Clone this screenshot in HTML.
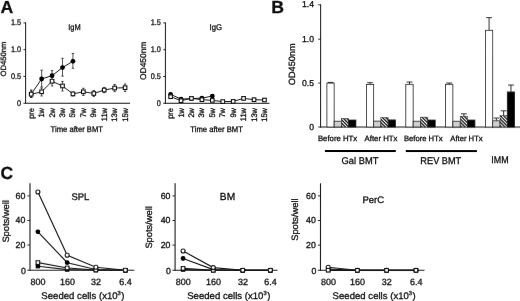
<!DOCTYPE html>
<html lang="en"><head><meta charset="utf-8"><title>Figure</title>
<style>
html,body{margin:0;padding:0;background:#fff;}
body{width:520px;height:301px;overflow:hidden;}
svg{display:block;font-family:"Liberation Sans",Arial,Helvetica,sans-serif;text-rendering:geometricPrecision;}
</style></head><body>
<svg width="520" height="301" viewBox="0 0 520 301">
<defs><filter id="bl" x="0" y="0" width="520" height="301" filterUnits="userSpaceOnUse"><feGaussianBlur stdDeviation="0.45"/></filter></defs>
<rect width="520" height="301" fill="#fff"/>
<g filter="url(#bl)" transform="rotate(0.02 260 150)">
<text x="0.6" y="12.9" font-size="17.4" text-anchor="start" font-weight="bold" textLength="12.7" lengthAdjust="spacingAndGlyphs" fill="#111" stroke="#111" stroke-width="0.3">A</text>
<text x="271.2" y="13.2" font-size="17.6" text-anchor="start" font-weight="bold" fill="#111" stroke="#111" stroke-width="0.3">B</text>
<text x="0.5" y="179" font-size="17.5" text-anchor="start" font-weight="bold" fill="#111" stroke="#111" stroke-width="0.3">C</text>
<line x1="25.6" y1="22.5" x2="25.6" y2="103.8" stroke="#1a1a1a" stroke-width="1"/>
<line x1="25.1" y1="103.3" x2="130" y2="103.3" stroke="#1a1a1a" stroke-width="1"/>
<line x1="23.400000000000002" y1="22.89999999999999" x2="25.6" y2="22.89999999999999" stroke="#1a1a1a" stroke-width="0.9"/>
<text x="21.1" y="25.39999999999999" font-size="8.1" text-anchor="end" textLength="10.13" lengthAdjust="spacingAndGlyphs" fill="#111" stroke="#111" stroke-width="0.3">1.5</text>
<line x1="23.400000000000002" y1="49.699999999999996" x2="25.6" y2="49.699999999999996" stroke="#1a1a1a" stroke-width="0.9"/>
<text x="21.1" y="52.199999999999996" font-size="8.1" text-anchor="end" textLength="10.13" lengthAdjust="spacingAndGlyphs" fill="#111" stroke="#111" stroke-width="0.3">1.0</text>
<line x1="23.400000000000002" y1="76.5" x2="25.6" y2="76.5" stroke="#1a1a1a" stroke-width="0.9"/>
<text x="21.1" y="79.0" font-size="8.1" text-anchor="end" textLength="10.13" lengthAdjust="spacingAndGlyphs" fill="#111" stroke="#111" stroke-width="0.3">0.5</text>
<line x1="23.400000000000002" y1="103.3" x2="25.6" y2="103.3" stroke="#1a1a1a" stroke-width="0.9"/>
<text x="21.1" y="105.8" font-size="8.1" text-anchor="end" textLength="4.05" lengthAdjust="spacingAndGlyphs" fill="#111" stroke="#111" stroke-width="0.3">0</text>
<text x="5.6" y="59.0" font-size="7.7" text-anchor="middle" transform="rotate(-90 5.6 59.0)" textLength="35.0" lengthAdjust="spacingAndGlyphs" fill="#111" stroke="#111" stroke-width="0.3">OD450nm</text>
<text x="74.4" y="30.4" font-size="8.3" text-anchor="middle" textLength="12.4" lengthAdjust="spacingAndGlyphs" fill="#111" stroke="#111" stroke-width="0.3">IgM</text>
<text x="33.7" y="108.0" font-size="8.1" text-anchor="end" transform="rotate(-90 33.7 108.0)" textLength="10.77" lengthAdjust="spacingAndGlyphs" fill="#111" stroke="#111" stroke-width="0.3">pre</text>
<text x="44.13" y="108.0" font-size="8.1" text-anchor="end" transform="rotate(-90 44.13 108.0)" textLength="9.53" lengthAdjust="spacingAndGlyphs" fill="#111" stroke="#111" stroke-width="0.3">1w</text>
<text x="54.56" y="108.0" font-size="8.1" text-anchor="end" transform="rotate(-90 54.56 108.0)" textLength="9.53" lengthAdjust="spacingAndGlyphs" fill="#111" stroke="#111" stroke-width="0.3">2w</text>
<text x="64.99000000000001" y="108.0" font-size="8.1" text-anchor="end" transform="rotate(-90 64.99000000000001 108.0)" textLength="9.53" lengthAdjust="spacingAndGlyphs" fill="#111" stroke="#111" stroke-width="0.3">3w</text>
<text x="75.42" y="108.0" font-size="8.1" text-anchor="end" transform="rotate(-90 75.42 108.0)" textLength="9.53" lengthAdjust="spacingAndGlyphs" fill="#111" stroke="#111" stroke-width="0.3">5w</text>
<text x="85.85" y="108.0" font-size="8.1" text-anchor="end" transform="rotate(-90 85.85 108.0)" textLength="9.53" lengthAdjust="spacingAndGlyphs" fill="#111" stroke="#111" stroke-width="0.3">7w</text>
<text x="96.28" y="108.0" font-size="8.1" text-anchor="end" transform="rotate(-90 96.28 108.0)" textLength="9.53" lengthAdjust="spacingAndGlyphs" fill="#111" stroke="#111" stroke-width="0.3">9w</text>
<text x="106.71" y="108.0" font-size="8.1" text-anchor="end" transform="rotate(-90 106.71 108.0)" textLength="13.12" lengthAdjust="spacingAndGlyphs" fill="#111" stroke="#111" stroke-width="0.3">11w</text>
<text x="117.14" y="108.0" font-size="8.1" text-anchor="end" transform="rotate(-90 117.14 108.0)" textLength="13.67" lengthAdjust="spacingAndGlyphs" fill="#111" stroke="#111" stroke-width="0.3">13w</text>
<text x="127.57000000000001" y="108.0" font-size="8.1" text-anchor="end" transform="rotate(-90 127.57000000000001 108.0)" textLength="13.67" lengthAdjust="spacingAndGlyphs" fill="#111" stroke="#111" stroke-width="0.3">15w</text>
<text x="76.80000000000001" y="132.1" font-size="8.1" text-anchor="middle" textLength="52.5" lengthAdjust="spacingAndGlyphs" fill="#111" stroke="#111" stroke-width="0.3">Time after BMT</text>
<line x1="31.200000000000003" y1="91" x2="31.200000000000003" y2="97.5" stroke="#1a1a1a" stroke-width="0.75"/>
<line x1="30.000000000000004" y1="91" x2="32.400000000000006" y2="91" stroke="#1a1a1a" stroke-width="0.75"/>
<line x1="30.000000000000004" y1="97.5" x2="32.400000000000006" y2="97.5" stroke="#1a1a1a" stroke-width="0.75"/>
<line x1="41.63" y1="88" x2="41.63" y2="96" stroke="#1a1a1a" stroke-width="0.75"/>
<line x1="40.43" y1="88" x2="42.830000000000005" y2="88" stroke="#1a1a1a" stroke-width="0.75"/>
<line x1="40.43" y1="96" x2="42.830000000000005" y2="96" stroke="#1a1a1a" stroke-width="0.75"/>
<line x1="52.06" y1="77" x2="52.06" y2="86" stroke="#1a1a1a" stroke-width="0.75"/>
<line x1="50.86" y1="77" x2="53.260000000000005" y2="77" stroke="#1a1a1a" stroke-width="0.75"/>
<line x1="50.86" y1="86" x2="53.260000000000005" y2="86" stroke="#1a1a1a" stroke-width="0.75"/>
<line x1="62.49" y1="81.5" x2="62.49" y2="91" stroke="#1a1a1a" stroke-width="0.75"/>
<line x1="61.29" y1="81.5" x2="63.690000000000005" y2="81.5" stroke="#1a1a1a" stroke-width="0.75"/>
<line x1="61.29" y1="91" x2="63.690000000000005" y2="91" stroke="#1a1a1a" stroke-width="0.75"/>
<line x1="72.92" y1="92" x2="72.92" y2="96" stroke="#1a1a1a" stroke-width="0.75"/>
<line x1="71.72" y1="92" x2="74.12" y2="92" stroke="#1a1a1a" stroke-width="0.75"/>
<line x1="71.72" y1="96" x2="74.12" y2="96" stroke="#1a1a1a" stroke-width="0.75"/>
<line x1="83.35" y1="88.3" x2="83.35" y2="95.5" stroke="#1a1a1a" stroke-width="0.75"/>
<line x1="82.14999999999999" y1="88.3" x2="84.55" y2="88.3" stroke="#1a1a1a" stroke-width="0.75"/>
<line x1="82.14999999999999" y1="95.5" x2="84.55" y2="95.5" stroke="#1a1a1a" stroke-width="0.75"/>
<line x1="93.78" y1="90.5" x2="93.78" y2="96.5" stroke="#1a1a1a" stroke-width="0.75"/>
<line x1="92.58" y1="90.5" x2="94.98" y2="90.5" stroke="#1a1a1a" stroke-width="0.75"/>
<line x1="92.58" y1="96.5" x2="94.98" y2="96.5" stroke="#1a1a1a" stroke-width="0.75"/>
<line x1="104.21" y1="87.5" x2="104.21" y2="92.7" stroke="#1a1a1a" stroke-width="0.75"/>
<line x1="103.00999999999999" y1="87.5" x2="105.41" y2="87.5" stroke="#1a1a1a" stroke-width="0.75"/>
<line x1="103.00999999999999" y1="92.7" x2="105.41" y2="92.7" stroke="#1a1a1a" stroke-width="0.75"/>
<line x1="114.64" y1="84.5" x2="114.64" y2="91.7" stroke="#1a1a1a" stroke-width="0.75"/>
<line x1="113.44" y1="84.5" x2="115.84" y2="84.5" stroke="#1a1a1a" stroke-width="0.75"/>
<line x1="113.44" y1="91.7" x2="115.84" y2="91.7" stroke="#1a1a1a" stroke-width="0.75"/>
<line x1="125.07000000000001" y1="84" x2="125.07000000000001" y2="91.5" stroke="#1a1a1a" stroke-width="0.75"/>
<line x1="123.87" y1="84" x2="126.27000000000001" y2="84" stroke="#1a1a1a" stroke-width="0.75"/>
<line x1="123.87" y1="91.5" x2="126.27000000000001" y2="91.5" stroke="#1a1a1a" stroke-width="0.75"/>
<line x1="31.200000000000003" y1="90" x2="31.200000000000003" y2="97.5" stroke="#1a1a1a" stroke-width="0.75"/>
<line x1="30.000000000000004" y1="90" x2="32.400000000000006" y2="90" stroke="#1a1a1a" stroke-width="0.75"/>
<line x1="30.000000000000004" y1="97.5" x2="32.400000000000006" y2="97.5" stroke="#1a1a1a" stroke-width="0.75"/>
<line x1="41.63" y1="70.3" x2="41.63" y2="87" stroke="#1a1a1a" stroke-width="0.75"/>
<line x1="40.43" y1="70.3" x2="42.830000000000005" y2="70.3" stroke="#1a1a1a" stroke-width="0.75"/>
<line x1="40.43" y1="87" x2="42.830000000000005" y2="87" stroke="#1a1a1a" stroke-width="0.75"/>
<line x1="52.06" y1="70.7" x2="52.06" y2="80" stroke="#1a1a1a" stroke-width="0.75"/>
<line x1="50.86" y1="70.7" x2="53.260000000000005" y2="70.7" stroke="#1a1a1a" stroke-width="0.75"/>
<line x1="50.86" y1="80" x2="53.260000000000005" y2="80" stroke="#1a1a1a" stroke-width="0.75"/>
<line x1="62.49" y1="58.4" x2="62.49" y2="76.2" stroke="#1a1a1a" stroke-width="0.75"/>
<line x1="61.29" y1="58.4" x2="63.690000000000005" y2="58.4" stroke="#1a1a1a" stroke-width="0.75"/>
<line x1="61.29" y1="76.2" x2="63.690000000000005" y2="76.2" stroke="#1a1a1a" stroke-width="0.75"/>
<line x1="72.92" y1="53.5" x2="72.92" y2="68.3" stroke="#1a1a1a" stroke-width="0.75"/>
<line x1="71.72" y1="53.5" x2="74.12" y2="53.5" stroke="#1a1a1a" stroke-width="0.75"/>
<line x1="71.72" y1="68.3" x2="74.12" y2="68.3" stroke="#1a1a1a" stroke-width="0.75"/>
<polyline fill="none" stroke="#1a1a1a" stroke-width="1" points="31.200000000000003,94.3 41.63,91.8 52.06,81.3 62.49,86 72.92,93.9 83.35,91.8 93.78,93.5 104.21,90.1 114.64,88.1 125.07000000000001,87.7"/>
<polyline fill="none" stroke="#1a1a1a" stroke-width="1" points="31.200000000000003,94.1 41.63,79 52.06,75.7 62.49,67.6 72.92,61.3"/>
<circle cx="31.200000000000003" cy="94.1" r="2.4" fill="#000"/>
<circle cx="41.63" cy="79" r="2.4" fill="#000"/>
<circle cx="52.06" cy="75.7" r="2.4" fill="#000"/>
<circle cx="62.49" cy="67.6" r="2.4" fill="#000"/>
<circle cx="72.92" cy="61.3" r="2.4" fill="#000"/>
<rect x="29.400000000000002" y="92.5" width="3.6" height="3.6" fill="#fff" stroke="#111" stroke-width="1.1"/>
<rect x="39.830000000000005" y="90.0" width="3.6" height="3.6" fill="#fff" stroke="#111" stroke-width="1.1"/>
<rect x="50.260000000000005" y="79.5" width="3.6" height="3.6" fill="#fff" stroke="#111" stroke-width="1.1"/>
<rect x="60.690000000000005" y="84.2" width="3.6" height="3.6" fill="#fff" stroke="#111" stroke-width="1.1"/>
<rect x="71.12" y="92.10000000000001" width="3.6" height="3.6" fill="#fff" stroke="#111" stroke-width="1.1"/>
<rect x="81.55" y="90.0" width="3.6" height="3.6" fill="#fff" stroke="#111" stroke-width="1.1"/>
<rect x="91.98" y="91.7" width="3.6" height="3.6" fill="#fff" stroke="#111" stroke-width="1.1"/>
<rect x="102.41" y="88.3" width="3.6" height="3.6" fill="#fff" stroke="#111" stroke-width="1.1"/>
<rect x="112.84" y="86.3" width="3.6" height="3.6" fill="#fff" stroke="#111" stroke-width="1.1"/>
<rect x="123.27000000000001" y="85.9" width="3.6" height="3.6" fill="#fff" stroke="#111" stroke-width="1.1"/>
<line x1="165.4" y1="22.5" x2="165.4" y2="103.8" stroke="#1a1a1a" stroke-width="1"/>
<line x1="164.9" y1="103.3" x2="269.5" y2="103.3" stroke="#1a1a1a" stroke-width="1"/>
<line x1="163.20000000000002" y1="22.89999999999999" x2="165.4" y2="22.89999999999999" stroke="#1a1a1a" stroke-width="0.9"/>
<text x="160.9" y="25.39999999999999" font-size="8.1" text-anchor="end" textLength="10.13" lengthAdjust="spacingAndGlyphs" fill="#111" stroke="#111" stroke-width="0.3">1.5</text>
<line x1="163.20000000000002" y1="49.699999999999996" x2="165.4" y2="49.699999999999996" stroke="#1a1a1a" stroke-width="0.9"/>
<text x="160.9" y="52.199999999999996" font-size="8.1" text-anchor="end" textLength="10.13" lengthAdjust="spacingAndGlyphs" fill="#111" stroke="#111" stroke-width="0.3">1.0</text>
<line x1="163.20000000000002" y1="76.5" x2="165.4" y2="76.5" stroke="#1a1a1a" stroke-width="0.9"/>
<text x="160.9" y="79.0" font-size="8.1" text-anchor="end" textLength="10.13" lengthAdjust="spacingAndGlyphs" fill="#111" stroke="#111" stroke-width="0.3">0.5</text>
<line x1="163.20000000000002" y1="103.3" x2="165.4" y2="103.3" stroke="#1a1a1a" stroke-width="0.9"/>
<text x="160.9" y="105.8" font-size="8.1" text-anchor="end" textLength="4.05" lengthAdjust="spacingAndGlyphs" fill="#111" stroke="#111" stroke-width="0.3">0</text>
<text x="146.0" y="60.8" font-size="8.3" text-anchor="middle" transform="rotate(-90 146.0 60.8)" textLength="38.4" lengthAdjust="spacingAndGlyphs" fill="#111" stroke="#111" stroke-width="0.3">OD450nm</text>
<text x="215.8" y="30.4" font-size="8.3" text-anchor="middle" textLength="12.4" lengthAdjust="spacingAndGlyphs" fill="#111" stroke="#111" stroke-width="0.3">IgG</text>
<text x="173.1" y="108.0" font-size="8.1" text-anchor="end" transform="rotate(-90 173.1 108.0)" textLength="10.77" lengthAdjust="spacingAndGlyphs" fill="#111" stroke="#111" stroke-width="0.3">pre</text>
<text x="183.53" y="108.0" font-size="8.1" text-anchor="end" transform="rotate(-90 183.53 108.0)" textLength="9.53" lengthAdjust="spacingAndGlyphs" fill="#111" stroke="#111" stroke-width="0.3">1w</text>
<text x="193.95999999999998" y="108.0" font-size="8.1" text-anchor="end" transform="rotate(-90 193.95999999999998 108.0)" textLength="9.53" lengthAdjust="spacingAndGlyphs" fill="#111" stroke="#111" stroke-width="0.3">2w</text>
<text x="204.39" y="108.0" font-size="8.1" text-anchor="end" transform="rotate(-90 204.39 108.0)" textLength="9.53" lengthAdjust="spacingAndGlyphs" fill="#111" stroke="#111" stroke-width="0.3">3w</text>
<text x="214.82" y="108.0" font-size="8.1" text-anchor="end" transform="rotate(-90 214.82 108.0)" textLength="9.53" lengthAdjust="spacingAndGlyphs" fill="#111" stroke="#111" stroke-width="0.3">5w</text>
<text x="225.25" y="108.0" font-size="8.1" text-anchor="end" transform="rotate(-90 225.25 108.0)" textLength="9.53" lengthAdjust="spacingAndGlyphs" fill="#111" stroke="#111" stroke-width="0.3">7w</text>
<text x="235.68" y="108.0" font-size="8.1" text-anchor="end" transform="rotate(-90 235.68 108.0)" textLength="9.53" lengthAdjust="spacingAndGlyphs" fill="#111" stroke="#111" stroke-width="0.3">9w</text>
<text x="246.10999999999999" y="108.0" font-size="8.1" text-anchor="end" transform="rotate(-90 246.10999999999999 108.0)" textLength="13.12" lengthAdjust="spacingAndGlyphs" fill="#111" stroke="#111" stroke-width="0.3">11w</text>
<text x="256.53999999999996" y="108.0" font-size="8.1" text-anchor="end" transform="rotate(-90 256.53999999999996 108.0)" textLength="13.67" lengthAdjust="spacingAndGlyphs" fill="#111" stroke="#111" stroke-width="0.3">13w</text>
<text x="266.97" y="108.0" font-size="8.1" text-anchor="end" transform="rotate(-90 266.97 108.0)" textLength="13.67" lengthAdjust="spacingAndGlyphs" fill="#111" stroke="#111" stroke-width="0.3">15w</text>
<text x="216.60000000000002" y="132.1" font-size="8.1" text-anchor="middle" textLength="52.5" lengthAdjust="spacingAndGlyphs" fill="#111" stroke="#111" stroke-width="0.3">Time after BMT</text>
<polyline fill="none" stroke="#1a1a1a" stroke-width="1" points="170.6,96.7 181.03,100.7 191.45999999999998,98.4 201.89,99.7 212.32,100.4 222.75,101.6 233.18,101.4 243.60999999999999,98.4 254.04,99.7 264.47,100.0"/>
<polyline fill="none" stroke="#1a1a1a" stroke-width="1" points="170.6,94.4 181.03,99.1 191.45999999999998,98.6 201.89,98.1 212.32,96.1"/>
<circle cx="170.6" cy="94.4" r="2.4" fill="#000"/>
<circle cx="181.03" cy="99.1" r="2.4" fill="#000"/>
<circle cx="191.45999999999998" cy="98.6" r="2.4" fill="#000"/>
<circle cx="201.89" cy="98.1" r="2.4" fill="#000"/>
<circle cx="212.32" cy="96.1" r="2.4" fill="#000"/>
<rect x="168.79999999999998" y="94.9" width="3.6" height="3.6" fill="#fff" stroke="#111" stroke-width="1.1"/>
<rect x="179.23" y="98.9" width="3.6" height="3.6" fill="#fff" stroke="#111" stroke-width="1.1"/>
<rect x="189.65999999999997" y="96.60000000000001" width="3.6" height="3.6" fill="#fff" stroke="#111" stroke-width="1.1"/>
<rect x="200.08999999999997" y="97.9" width="3.6" height="3.6" fill="#fff" stroke="#111" stroke-width="1.1"/>
<rect x="210.51999999999998" y="98.60000000000001" width="3.6" height="3.6" fill="#fff" stroke="#111" stroke-width="1.1"/>
<rect x="220.95" y="99.8" width="3.6" height="3.6" fill="#fff" stroke="#111" stroke-width="1.1"/>
<rect x="231.38" y="99.60000000000001" width="3.6" height="3.6" fill="#fff" stroke="#111" stroke-width="1.1"/>
<rect x="241.80999999999997" y="96.60000000000001" width="3.6" height="3.6" fill="#fff" stroke="#111" stroke-width="1.1"/>
<rect x="252.23999999999998" y="97.9" width="3.6" height="3.6" fill="#fff" stroke="#111" stroke-width="1.1"/>
<rect x="262.67" y="98.2" width="3.6" height="3.6" fill="#fff" stroke="#111" stroke-width="1.1"/>
<line x1="320.6" y1="4.3" x2="320.6" y2="127.5" stroke="#1a1a1a" stroke-width="1"/>
<line x1="320.1" y1="127.0" x2="520" y2="127.0" stroke="#1a1a1a" stroke-width="1"/>
<line x1="318.20000000000005" y1="4.8" x2="320.6" y2="4.8" stroke="#1a1a1a" stroke-width="0.9"/>
<text x="314.0" y="6.5" font-size="8.6" text-anchor="end" fill="#111" stroke="#111" stroke-width="0.3">1.4</text>
<line x1="318.20000000000005" y1="39.2" x2="320.6" y2="39.2" stroke="#1a1a1a" stroke-width="0.9"/>
<text x="314.0" y="42.2" font-size="8.6" text-anchor="end" fill="#111" stroke="#111" stroke-width="0.3">1.0</text>
<line x1="318.20000000000005" y1="83.1" x2="320.6" y2="83.1" stroke="#1a1a1a" stroke-width="0.9"/>
<text x="314.0" y="86.1" font-size="8.6" text-anchor="end" fill="#111" stroke="#111" stroke-width="0.3">0.5</text>
<line x1="318.20000000000005" y1="127.0" x2="320.6" y2="127.0" stroke="#1a1a1a" stroke-width="0.9"/>
<text x="314.0" y="130.0" font-size="8.6" text-anchor="end" fill="#111" stroke="#111" stroke-width="0.3">0</text>
<text x="295" y="64.3" font-size="9.1" text-anchor="middle" transform="rotate(-90 295 64.3)" textLength="41.7" lengthAdjust="spacingAndGlyphs" fill="#111" stroke="#111" stroke-width="0.3">OD450nm</text>
<defs><pattern id="h" width="2.35" height="2.35" patternUnits="userSpaceOnUse" patternTransform="rotate(45)"><rect width="2.35" height="2.35" fill="#fff"/><rect width="2.35" height="1.25" fill="#000"/></pattern></defs>
<line x1="330.525" y1="82.4" x2="330.525" y2="83.1" stroke="#1a1a1a" stroke-width="0.9"/>
<line x1="327.625" y1="82.4" x2="333.42499999999995" y2="82.4" stroke="#1a1a1a" stroke-width="0.9"/>
<rect x="326.90" y="83.1" width="7.25" height="43.90" fill="#fff" stroke="#222" stroke-width="0.8"/>
<rect x="334.15" y="121.2" width="7.25" height="5.80" fill="#cfcfcf" stroke="#222" stroke-width="0.8"/>
<rect x="341.40" y="118.4" width="7.25" height="8.60" fill="url(#h)" stroke="#222" stroke-width="0.5"/>
<rect x="348.65" y="120.0" width="7.25" height="7.00" fill="#000" stroke="#222" stroke-width="0.8"/>
<line x1="370.025" y1="82.7" x2="370.025" y2="84.4" stroke="#1a1a1a" stroke-width="0.9"/>
<line x1="367.125" y1="82.7" x2="372.92499999999995" y2="82.7" stroke="#1a1a1a" stroke-width="0.9"/>
<rect x="366.40" y="84.4" width="7.25" height="42.60" fill="#fff" stroke="#222" stroke-width="0.8"/>
<rect x="373.65" y="121.1" width="7.25" height="5.90" fill="#cfcfcf" stroke="#222" stroke-width="0.8"/>
<rect x="380.90" y="117.5" width="7.25" height="9.50" fill="url(#h)" stroke="#222" stroke-width="0.5"/>
<rect x="388.15" y="119.9" width="7.25" height="7.10" fill="#000" stroke="#222" stroke-width="0.8"/>
<line x1="409.475" y1="82.0" x2="409.475" y2="84.3" stroke="#1a1a1a" stroke-width="0.9"/>
<line x1="406.57500000000005" y1="82.0" x2="412.375" y2="82.0" stroke="#1a1a1a" stroke-width="0.9"/>
<rect x="405.80" y="84.3" width="7.35" height="42.70" fill="#fff" stroke="#222" stroke-width="0.8"/>
<rect x="413.15" y="121.2" width="7.35" height="5.80" fill="#cfcfcf" stroke="#222" stroke-width="0.8"/>
<rect x="420.50" y="117.1" width="7.35" height="9.90" fill="url(#h)" stroke="#222" stroke-width="0.5"/>
<rect x="427.85" y="120.0" width="7.35" height="7.00" fill="#000" stroke="#222" stroke-width="0.8"/>
<line x1="449.175" y1="83.0" x2="449.175" y2="84.3" stroke="#1a1a1a" stroke-width="0.9"/>
<line x1="446.27500000000003" y1="83.0" x2="452.075" y2="83.0" stroke="#1a1a1a" stroke-width="0.9"/>
<rect x="445.50" y="84.3" width="7.35" height="42.70" fill="#fff" stroke="#222" stroke-width="0.8"/>
<rect x="452.85" y="121.2" width="7.35" height="5.80" fill="#cfcfcf" stroke="#222" stroke-width="0.8"/>
<line x1="463.875" y1="113.8" x2="463.875" y2="116.2" stroke="#1a1a1a" stroke-width="0.9"/>
<line x1="460.975" y1="113.8" x2="466.775" y2="113.8" stroke="#1a1a1a" stroke-width="0.9"/>
<rect x="460.20" y="116.2" width="7.35" height="10.80" fill="url(#h)" stroke="#222" stroke-width="0.5"/>
<rect x="467.55" y="120.0" width="7.35" height="7.00" fill="#000" stroke="#222" stroke-width="0.8"/>
<line x1="489.04999999999995" y1="17.6" x2="489.04999999999995" y2="30.3" stroke="#1a1a1a" stroke-width="0.9"/>
<line x1="486.15" y1="17.6" x2="491.94999999999993" y2="17.6" stroke="#1a1a1a" stroke-width="0.9"/>
<rect x="485.40" y="30.3" width="7.3" height="96.70" fill="#fff" stroke="#222" stroke-width="0.8"/>
<line x1="496.34999999999997" y1="118.0" x2="496.34999999999997" y2="120.8" stroke="#1a1a1a" stroke-width="0.9"/>
<line x1="493.45" y1="118.0" x2="499.24999999999994" y2="118.0" stroke="#1a1a1a" stroke-width="0.9"/>
<rect x="492.70" y="120.8" width="7.3" height="6.20" fill="#cfcfcf" stroke="#222" stroke-width="0.8"/>
<line x1="503.65" y1="110.8" x2="503.65" y2="115.5" stroke="#1a1a1a" stroke-width="0.9"/>
<line x1="500.75" y1="110.8" x2="506.54999999999995" y2="110.8" stroke="#1a1a1a" stroke-width="0.9"/>
<rect x="500.00" y="115.5" width="7.3" height="11.50" fill="url(#h)" stroke="#222" stroke-width="0.5"/>
<line x1="510.94999999999993" y1="85.0" x2="510.94999999999993" y2="91.9" stroke="#1a1a1a" stroke-width="0.9"/>
<line x1="508.04999999999995" y1="85.0" x2="513.8499999999999" y2="85.0" stroke="#1a1a1a" stroke-width="0.9"/>
<rect x="507.30" y="91.9" width="7.3" height="35.10" fill="#000" stroke="#222" stroke-width="0.8"/>
<text x="337.6" y="140.5" font-size="7.8" text-anchor="middle" textLength="39.3" lengthAdjust="spacingAndGlyphs" fill="#111" stroke="#111" stroke-width="0.3">Before HTx</text>
<text x="381" y="140.5" font-size="7.7" text-anchor="middle" textLength="32.8" lengthAdjust="spacingAndGlyphs" fill="#111" stroke="#111" stroke-width="0.3">After HTx</text>
<text x="423.3" y="140.5" font-size="7.7" text-anchor="middle" textLength="38.8" lengthAdjust="spacingAndGlyphs" fill="#111" stroke="#111" stroke-width="0.3">Before HTx</text>
<text x="466.5" y="140.5" font-size="7.7" text-anchor="middle" textLength="32.3" lengthAdjust="spacingAndGlyphs" fill="#111" stroke="#111" stroke-width="0.3">After HTx</text>
<line x1="324.9" y1="151" x2="395.8" y2="151" stroke="#000" stroke-width="2.1"/>
<line x1="405.8" y1="151" x2="476.9" y2="151" stroke="#000" stroke-width="2.1"/>
<text x="360" y="163.7" font-size="9.8" text-anchor="middle" textLength="36.8" lengthAdjust="spacingAndGlyphs" fill="#111" stroke="#111" stroke-width="0.3">Gal BMT</text>
<text x="440.8" y="163.7" font-size="9.8" text-anchor="middle" textLength="40.9" lengthAdjust="spacingAndGlyphs" fill="#111" stroke="#111" stroke-width="0.3">REV BMT</text>
<text x="499.9" y="163.2" font-size="9.8" text-anchor="middle" textLength="17.3" lengthAdjust="spacingAndGlyphs" fill="#111" stroke="#111" stroke-width="0.3">IMM</text>
<line x1="30" y1="183.3" x2="30" y2="270.8" stroke="#1a1a1a" stroke-width="1.1"/>
<line x1="27.4" y1="270.3" x2="134.3" y2="270.3" stroke="#1a1a1a" stroke-width="1.1"/>
<line x1="27.4" y1="195.9" x2="30" y2="195.9" stroke="#1a1a1a" stroke-width="0.9"/>
<text x="25.4" y="198.6" font-size="8.8" text-anchor="end" fill="#111" stroke="#111" stroke-width="0.3">60</text>
<line x1="27.4" y1="220.50000000000003" x2="30" y2="220.50000000000003" stroke="#1a1a1a" stroke-width="0.9"/>
<text x="25.4" y="223.20000000000002" font-size="8.8" text-anchor="end" fill="#111" stroke="#111" stroke-width="0.3">40</text>
<line x1="27.4" y1="245.10000000000002" x2="30" y2="245.10000000000002" stroke="#1a1a1a" stroke-width="0.9"/>
<text x="25.4" y="247.8" font-size="8.8" text-anchor="end" fill="#111" stroke="#111" stroke-width="0.3">20</text>
<text x="25.8" y="273.5" font-size="8.8" text-anchor="end" fill="#111" stroke="#111" stroke-width="0.3">0</text>
<text x="8.6" y="221.4" font-size="9.2" text-anchor="middle" transform="rotate(-90 8.6 221.4)" textLength="42.4" lengthAdjust="spacingAndGlyphs" fill="#111" stroke="#111" stroke-width="0.3">Spots/well</text>
<text x="80.4" y="200.4" font-size="9.5" text-anchor="middle" fill="#111" stroke="#111" stroke-width="0.3">SPL</text>
<text x="38.1" y="284.7" font-size="9" text-anchor="middle" fill="#111" stroke="#111" stroke-width="0.3">800</text>
<text x="67.4" y="284.7" font-size="9" text-anchor="middle" fill="#111" stroke="#111" stroke-width="0.3">160</text>
<text x="96.10000000000001" y="284.7" font-size="9" text-anchor="middle" fill="#111" stroke="#111" stroke-width="0.3">32</text>
<text x="125.60000000000001" y="284.7" font-size="9" text-anchor="middle" fill="#111" stroke="#111" stroke-width="0.3">6.4</text>
<text x="82.95" y="298.5" font-size="9.6" text-anchor="middle" fill="#111" stroke="#111" stroke-width="0.3">Seeded cells (x10<tspan font-size="5.8" dy="-3.2">3</tspan><tspan dy="3.2" dx="0.5">)</tspan></text>
<polyline fill="none" stroke="#1a1a1a" stroke-width="1.15" points="37.9,266.2 67.2,269.6 95.9,270.2 125.4,270.3"/>
<polyline fill="none" stroke="#1a1a1a" stroke-width="1.15" points="37.9,231.8 67.2,262.7 95.9,269.5 125.4,270.3"/>
<polyline fill="none" stroke="#1a1a1a" stroke-width="1.15" points="37.9,262.6 67.2,268.0 95.9,270.0 125.4,270.3"/>
<polyline fill="none" stroke="#1a1a1a" stroke-width="1.15" points="37.9,192.0 67.2,255.3 95.9,267.2 125.4,270.3"/>
<rect x="35.7" y="264.0" width="4.4" height="4.4" fill="#000"/>
<rect x="65.0" y="267.40000000000003" width="4.4" height="4.4" fill="#000"/>
<rect x="93.7" y="268.0" width="4.4" height="4.4" fill="#000"/>
<rect x="123.2" y="268.1" width="4.4" height="4.4" fill="#000"/>
<circle cx="37.9" cy="231.8" r="2.4" fill="#000"/>
<circle cx="67.2" cy="262.7" r="2.4" fill="#000"/>
<circle cx="95.9" cy="269.5" r="2.4" fill="#000"/>
<circle cx="125.4" cy="270.3" r="2.4" fill="#000"/>
<rect x="36.1" y="260.8" width="3.6" height="3.6" fill="#fff" stroke="#111" stroke-width="1.1"/>
<rect x="65.4" y="266.2" width="3.6" height="3.6" fill="#fff" stroke="#111" stroke-width="1.1"/>
<rect x="94.10000000000001" y="268.2" width="3.6" height="3.6" fill="#fff" stroke="#111" stroke-width="1.1"/>
<rect x="123.60000000000001" y="268.5" width="3.6" height="3.6" fill="#fff" stroke="#111" stroke-width="1.1"/>
<circle cx="37.9" cy="192.0" r="2.0" fill="#fff" stroke="#111" stroke-width="1.1"/>
<circle cx="67.2" cy="255.3" r="2.0" fill="#fff" stroke="#111" stroke-width="1.1"/>
<circle cx="95.9" cy="267.2" r="2.0" fill="#fff" stroke="#111" stroke-width="1.1"/>
<circle cx="125.4" cy="270.3" r="2.0" fill="#fff" stroke="#111" stroke-width="1.1"/>
<line x1="175.1" y1="183.3" x2="175.1" y2="270.8" stroke="#1a1a1a" stroke-width="1.1"/>
<line x1="172.5" y1="270.3" x2="277.5" y2="270.3" stroke="#1a1a1a" stroke-width="1.1"/>
<line x1="172.5" y1="195.9" x2="175.1" y2="195.9" stroke="#1a1a1a" stroke-width="0.9"/>
<text x="170.5" y="198.6" font-size="8.8" text-anchor="end" fill="#111" stroke="#111" stroke-width="0.3">60</text>
<line x1="172.5" y1="220.50000000000003" x2="175.1" y2="220.50000000000003" stroke="#1a1a1a" stroke-width="0.9"/>
<text x="170.5" y="223.20000000000002" font-size="8.8" text-anchor="end" fill="#111" stroke="#111" stroke-width="0.3">40</text>
<line x1="172.5" y1="245.10000000000002" x2="175.1" y2="245.10000000000002" stroke="#1a1a1a" stroke-width="0.9"/>
<text x="170.5" y="247.8" font-size="8.8" text-anchor="end" fill="#111" stroke="#111" stroke-width="0.3">20</text>
<text x="170.9" y="273.5" font-size="8.8" text-anchor="end" fill="#111" stroke="#111" stroke-width="0.3">0</text>
<text x="152.3" y="227.4" font-size="9.2" text-anchor="middle" transform="rotate(-90 152.3 227.4)" textLength="42.4" lengthAdjust="spacingAndGlyphs" fill="#111" stroke="#111" stroke-width="0.3">Spots/well</text>
<text x="227.5" y="200.3" font-size="10.2" text-anchor="middle" fill="#111" stroke="#111" stroke-width="0.3">BM</text>
<text x="183.29999999999998" y="284.7" font-size="9" text-anchor="middle" fill="#111" stroke="#111" stroke-width="0.3">800</text>
<text x="213.5" y="284.7" font-size="9" text-anchor="middle" fill="#111" stroke="#111" stroke-width="0.3">160</text>
<text x="243.0" y="284.7" font-size="9" text-anchor="middle" fill="#111" stroke="#111" stroke-width="0.3">32</text>
<text x="270.59999999999997" y="284.7" font-size="9" text-anchor="middle" fill="#111" stroke="#111" stroke-width="0.3">6.4</text>
<text x="228.75" y="298.5" font-size="9.6" text-anchor="middle" fill="#111" stroke="#111" stroke-width="0.3">Seeded cells (x10<tspan font-size="5.8" dy="-3.2">3</tspan><tspan dy="3.2" dx="0.5">)</tspan></text>
<polyline fill="none" stroke="#1a1a1a" stroke-width="1.15" points="183.1,269.6 213.3,270.3 242.8,270.3 270.4,270.3"/>
<polyline fill="none" stroke="#1a1a1a" stroke-width="1.15" points="183.1,258.5 213.3,269.6 242.8,270.3 270.4,270.3"/>
<polyline fill="none" stroke="#1a1a1a" stroke-width="1.15" points="183.1,268.4 213.3,270.3 242.8,270.3 270.4,270.3"/>
<polyline fill="none" stroke="#1a1a1a" stroke-width="1.15" points="183.1,251.0 213.3,267.6 242.8,270.2 270.4,270.3"/>
<rect x="180.89999999999998" y="267.40000000000003" width="4.4" height="4.4" fill="#000"/>
<rect x="211.1" y="268.1" width="4.4" height="4.4" fill="#000"/>
<rect x="240.6" y="268.1" width="4.4" height="4.4" fill="#000"/>
<rect x="268.2" y="268.1" width="4.4" height="4.4" fill="#000"/>
<circle cx="183.1" cy="258.5" r="2.4" fill="#000"/>
<circle cx="213.3" cy="269.6" r="2.4" fill="#000"/>
<circle cx="242.8" cy="270.3" r="2.4" fill="#000"/>
<circle cx="270.4" cy="270.3" r="2.4" fill="#000"/>
<rect x="181.29999999999998" y="266.59999999999997" width="3.6" height="3.6" fill="#fff" stroke="#111" stroke-width="1.1"/>
<rect x="211.5" y="268.5" width="3.6" height="3.6" fill="#fff" stroke="#111" stroke-width="1.1"/>
<rect x="241.0" y="268.5" width="3.6" height="3.6" fill="#fff" stroke="#111" stroke-width="1.1"/>
<rect x="268.59999999999997" y="268.5" width="3.6" height="3.6" fill="#fff" stroke="#111" stroke-width="1.1"/>
<circle cx="183.1" cy="251.0" r="2.0" fill="#fff" stroke="#111" stroke-width="1.1"/>
<circle cx="213.3" cy="267.6" r="2.0" fill="#fff" stroke="#111" stroke-width="1.1"/>
<circle cx="242.8" cy="270.2" r="2.0" fill="#fff" stroke="#111" stroke-width="1.1"/>
<circle cx="270.4" cy="270.3" r="2.0" fill="#fff" stroke="#111" stroke-width="1.1"/>
<line x1="320.5" y1="183.3" x2="320.5" y2="270.8" stroke="#1a1a1a" stroke-width="1.1"/>
<line x1="317.9" y1="270.3" x2="424.5" y2="270.3" stroke="#1a1a1a" stroke-width="1.1"/>
<line x1="317.9" y1="195.9" x2="320.5" y2="195.9" stroke="#1a1a1a" stroke-width="0.9"/>
<text x="315.9" y="198.6" font-size="8.8" text-anchor="end" fill="#111" stroke="#111" stroke-width="0.3">60</text>
<line x1="317.9" y1="220.50000000000003" x2="320.5" y2="220.50000000000003" stroke="#1a1a1a" stroke-width="0.9"/>
<text x="315.9" y="223.20000000000002" font-size="8.8" text-anchor="end" fill="#111" stroke="#111" stroke-width="0.3">40</text>
<line x1="317.9" y1="245.10000000000002" x2="320.5" y2="245.10000000000002" stroke="#1a1a1a" stroke-width="0.9"/>
<text x="315.9" y="247.8" font-size="8.8" text-anchor="end" fill="#111" stroke="#111" stroke-width="0.3">20</text>
<text x="316.3" y="273.5" font-size="8.8" text-anchor="end" fill="#111" stroke="#111" stroke-width="0.3">0</text>
<text x="298.3" y="219.6" font-size="9.2" text-anchor="middle" transform="rotate(-90 298.3 219.6)" textLength="42.4" lengthAdjust="spacingAndGlyphs" fill="#111" stroke="#111" stroke-width="0.3">Spots/well</text>
<text x="373.3" y="202.6" font-size="9.5" text-anchor="middle" fill="#111" stroke="#111" stroke-width="0.3">PerC</text>
<text x="328.4" y="284.7" font-size="9" text-anchor="middle" fill="#111" stroke="#111" stroke-width="0.3">800</text>
<text x="357.59999999999997" y="284.7" font-size="9" text-anchor="middle" fill="#111" stroke="#111" stroke-width="0.3">160</text>
<text x="386.8" y="284.7" font-size="9" text-anchor="middle" fill="#111" stroke="#111" stroke-width="0.3">32</text>
<text x="416.2" y="284.7" font-size="9" text-anchor="middle" fill="#111" stroke="#111" stroke-width="0.3">6.4</text>
<text x="374.20000000000005" y="298.5" font-size="9.6" text-anchor="middle" fill="#111" stroke="#111" stroke-width="0.3">Seeded cells (x10<tspan font-size="5.8" dy="-3.2">3</tspan><tspan dy="3.2" dx="0.5">)</tspan></text>
<polyline fill="none" stroke="#1a1a1a" stroke-width="1.15" points="328.2,270.0 357.4,270.3 386.6,270.3 416.0,270.3"/>
<polyline fill="none" stroke="#1a1a1a" stroke-width="1.15" points="328.2,269.0 357.4,270.3 386.6,270.3 416.0,270.3"/>
<polyline fill="none" stroke="#1a1a1a" stroke-width="1.15" points="328.2,267.2 357.4,270.2 386.6,270.3 416.0,270.3"/>
<polyline fill="none" stroke="#1a1a1a" stroke-width="1.15" points="328.2,270.2 357.4,270.3 386.6,270.3 416.0,270.3"/>
<rect x="326.0" y="267.8" width="4.4" height="4.4" fill="#000"/>
<rect x="355.2" y="268.1" width="4.4" height="4.4" fill="#000"/>
<rect x="384.40000000000003" y="268.1" width="4.4" height="4.4" fill="#000"/>
<rect x="413.8" y="268.1" width="4.4" height="4.4" fill="#000"/>
<circle cx="328.2" cy="269.0" r="2.4" fill="#000"/>
<circle cx="357.4" cy="270.3" r="2.4" fill="#000"/>
<circle cx="386.6" cy="270.3" r="2.4" fill="#000"/>
<circle cx="416.0" cy="270.3" r="2.4" fill="#000"/>
<circle cx="328.2" cy="267.2" r="2.0" fill="#fff" stroke="#111" stroke-width="1.1"/>
<circle cx="357.4" cy="270.2" r="2.0" fill="#fff" stroke="#111" stroke-width="1.1"/>
<circle cx="386.6" cy="270.3" r="2.0" fill="#fff" stroke="#111" stroke-width="1.1"/>
<circle cx="416.0" cy="270.3" r="2.0" fill="#fff" stroke="#111" stroke-width="1.1"/>
<rect x="326.4" y="268.4" width="3.6" height="3.6" fill="#fff" stroke="#111" stroke-width="1.1"/>
<rect x="355.59999999999997" y="268.5" width="3.6" height="3.6" fill="#fff" stroke="#111" stroke-width="1.1"/>
<rect x="384.8" y="268.5" width="3.6" height="3.6" fill="#fff" stroke="#111" stroke-width="1.1"/>
<rect x="414.2" y="268.5" width="3.6" height="3.6" fill="#fff" stroke="#111" stroke-width="1.1"/>
</g>
</svg>
</body></html>
